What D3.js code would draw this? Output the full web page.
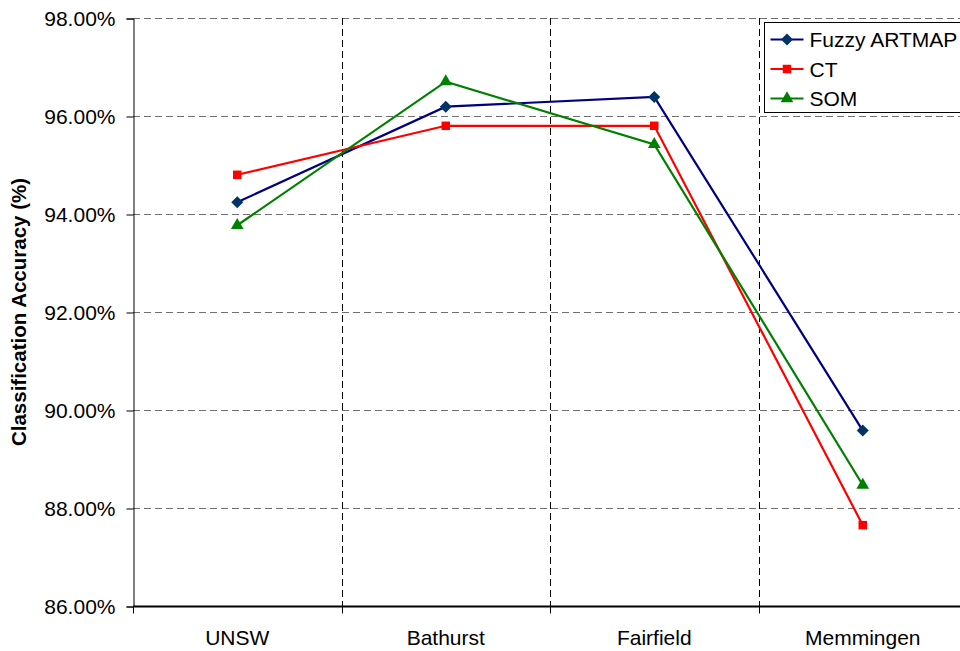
<!DOCTYPE html>
<html><head><meta charset="utf-8">
<script src="https://d3js.org/d3.v7.min.js"></script>
<style>body{margin:0;background:#fff}svg{display:block}</style>
</head><body>
<svg id="c" width="960" height="651"></svg>
<script>
const categories = ["UNSW", "Bathurst", "Fairfield", "Memmingen"];
const fuzzyArtmap = [94.24, 96.19, 96.39, 89.58];
const ct = [94.80, 95.80, 95.80, 87.65];
const som = [93.77, 96.70, 95.42, 88.47];
const yTicks = [86, 88, 90, 92, 94, 96, 98];
const seriesNames = ["Fuzzy ARTMAP", "CT", "SOM"];

const series = [
  {name: seriesNames[0], values: fuzzyArtmap, line: "#000080", fill: "#003366", sym: d3.symbolSquare, size: 72, rot: 45},
  {name: seriesNames[1], values: ct, line: "#ff0000", fill: "#ff0000", sym: d3.symbolSquare, size: 72, rot: 0},
  {name: seriesNames[2], values: som, line: "#008000", fill: "#008000", sym: d3.symbolTriangle, size: 70, rot: 0}
];

const svg = d3.select("#c");
const L = 133, R = 967, T = 18, B = 606;
const x = d3.scaleBand().domain(categories).range([L, R]);
const y = d3.scaleLinear().domain([86, 98]).range([B, T]);
const font = "Arial, 'Liberation Sans', sans-serif";

// horizontal gridlines
svg.append("g").selectAll("line").data(yTicks.filter(d => d > 86)).join("line")
  .attr("x1", L).attr("x2", R).attr("y1", d => y(d) + 0.5).attr("y2", d => y(d) + 0.5)
  .attr("stroke", "#707070").attr("stroke-width", 1.2).attr("stroke-dasharray", "7,4");
// vertical gridlines
svg.append("g").selectAll("line").data(categories.slice(1)).join("line")
  .attr("x1", d => Math.round(x(d)) + 0.5).attr("x2", d => Math.round(x(d)) + 0.5)
  .attr("y1", T).attr("y2", B)
  .attr("stroke", "#000").attr("stroke-width", 1).attr("stroke-dasharray", "7,4");

// y axis
const yAxis = d3.axisLeft(y).tickValues(yTicks).tickFormat(d => d.toFixed(2) + "%").tickSize(7).tickPadding(11);
const gy = svg.append("g").attr("transform", `translate(${L + 0.5},0.5)`).call(yAxis);
gy.select(".domain").attr("stroke", "#000");
gy.selectAll(".tick line").attr("stroke", "#000");
gy.selectAll("text").attr("font-family", font).attr("font-size", 21).attr("fill", "#000");

// x axis
const gx = svg.append("g").attr("transform", `translate(0,${B + 0.5})`);
gx.append("line").attr("x1", L).attr("x2", R).attr("stroke", "#000").attr("stroke-width", 2);
gx.selectAll("line.t").data(categories.concat(["_end"])).join("line").attr("class", "t")
  .attr("x1", (d, i) => Math.round(L + i * x.bandwidth()) + 0.5)
  .attr("x2", (d, i) => Math.round(L + i * x.bandwidth()) + 0.5)
  .attr("y1", 0).attr("y2", 7).attr("stroke", "#000");
gx.selectAll("text").data(categories).join("text")
  .attr("x", d => x(d) + x.bandwidth() / 2).attr("y", 38.5)
  .attr("text-anchor", "middle").attr("font-family", font).attr("font-size", 21).text(d => d);

// y title
svg.append("text").attr("transform", `translate(26,${(T + B) / 2}) rotate(-90)`)
  .attr("text-anchor", "middle").attr("font-family", font).attr("font-size", 20.5)
  .attr("font-weight", "bold").text("Classification Accuracy (%)");

// series
const cx = d => x(d) + x.bandwidth() / 2;
series.forEach(s => {
  const line = d3.line().x((v, i) => cx(categories[i])).y(v => y(v));
  svg.append("path").datum(s.values).attr("d", line).attr("fill", "none")
    .attr("stroke", s.line).attr("stroke-width", 2.2);
});
series.forEach(s => {
  svg.append("g").selectAll("path").data(s.values).join("path")
    .attr("d", d3.symbol().type(s.sym).size(s.size))
    .attr("transform", (v, i) => `translate(${cx(categories[i])},${y(v)}) rotate(${s.rot})`)
    .attr("fill", s.fill);
});

// legend
const lg = svg.append("g").attr("transform", "translate(764.5,22.5)");
lg.append("rect").attr("width", 204).attr("height", 90).attr("fill", "#fff").attr("stroke", "#000").attr("stroke-width", 1);
series.forEach((s, i) => {
  const yy = 17 + i * 29.5;
  lg.append("line").attr("x1", 6).attr("x2", 39).attr("y1", yy).attr("y2", yy).attr("stroke", s.line).attr("stroke-width", 2.2);
  lg.append("path").attr("d", d3.symbol().type(s.sym).size(s.size)).attr("transform", `translate(22.5,${yy}) rotate(${s.rot})`).attr("fill", s.fill);
  lg.append("text").attr("x", 45).attr("y", yy + 7.5).attr("font-family", font).attr("font-size", 21).text(s.name);
});
</script>
</body></html>
